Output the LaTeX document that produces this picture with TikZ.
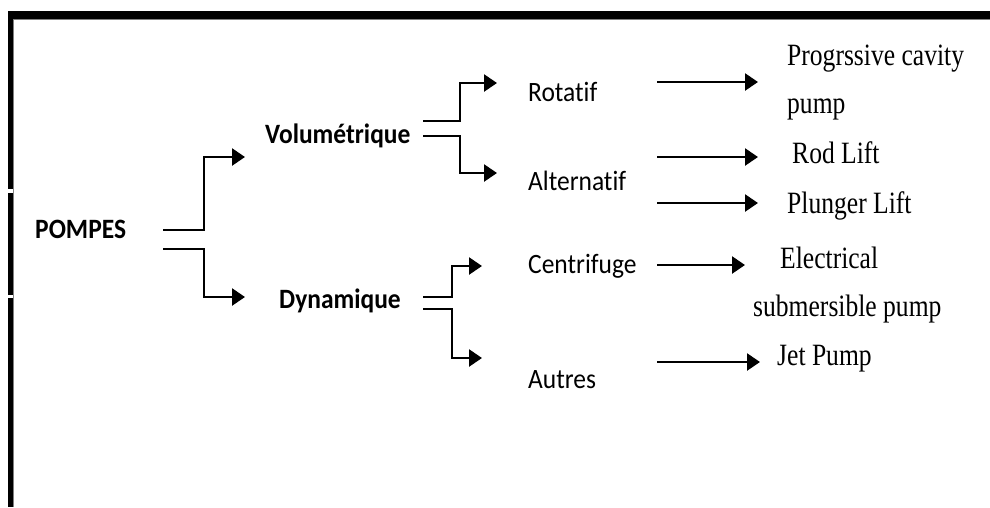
\documentclass[tikz,border=0pt]{standalone}
\usepackage{fontspec}
\setmainfont{Liberation Serif}[FakeStretch=0.825,Ligatures=NoCommon]
\setsansfont{Carlito}[FakeStretch=0.91,Ligatures=NoCommon,RawFeature=-liga]
\usetikzlibrary{arrows.meta}
\begin{document}
\begin{tikzpicture}[x=1pt,y=-1pt,
  lbl/.style={font=\sffamily\fontsize{28}{34}\selectfont, inner sep=0pt, anchor=base west},
  blbl/.style={lbl, font=\sffamily\bfseries\fontsize{28}{34}\selectfont},
  slbl/.style={font=\rmfamily\fontsize{31}{48}\selectfont, inner sep=0pt, anchor=base west, align=left},
  conn/.style={line width=2.5pt, -{Triangle[length=13pt,width=17pt]}},
  edge/.style={fill=black},
  shade/.style={draw=gray, line width=1pt}]
\useasboundingbox (0,0) rectangle (990,507);
% frame
\fill[edge] (8,11) rectangle (990,19);
\fill[edge] (8,11) rectangle (12.5,189);
\fill[edge] (8,193) rectangle (12.5,295);
\fill[edge] (8,298) rectangle (12.5,507);
\draw[shade] (13,19.5) -- (990,19.5);
\draw[shade] (13,19.5) -- (13,507);
% labels
\node[blbl] (pompes) at (35,238) {POMPES};
\node[blbl] (vol) at (265,143) {Volumétrique};
\node[blbl] (dyn) at (279,308) {Dynamique};
\node[lbl] (rot) at (528,101) {Rotatif};
\node[lbl] (alt) at (528,190) {Alternatif};
\node[lbl] (cen) at (528,273) {Centrifuge};
\node[lbl] (aut) at (528,388) {Autres};
\node[slbl] (pcp) at (787,113) {Progrssive cavity\\pump};
\node[slbl] (rod) at (792,163) {Rod Lift};
\node[slbl] (plu) at (787,213) {Plunger Lift};
\node[slbl] (esp) at (753,316) {\hspace*{27pt}Electrical\\submersible pump};
\node[slbl] (jet) at (777,365) {Jet Pump};
% connector ends
\coordinate (pA) at (163,230);
\coordinate (pB) at (163,249);
\coordinate (volIn) at (245,157);
\coordinate (dynIn) at (245,297);
\coordinate (vA) at (423,121);
\coordinate (vB) at (423,136);
\coordinate (rotIn) at (497,83);
\coordinate (altIn) at (497,173);
\coordinate (dA) at (423,297);
\coordinate (dB) at (423,309);
\coordinate (cenIn) at (482,266);
\coordinate (autIn) at (482,358);
\coordinate (r1) at (657,82);
\coordinate (r1e) at (758,82);
\coordinate (a1) at (657,157);
\coordinate (a1e) at (758,157);
\coordinate (a2) at (657,203);
\coordinate (a2e) at (758,203);
\coordinate (c1) at (657,265);
\coordinate (c1e) at (745,265);
\coordinate (o1) at (657,362);
\coordinate (o1e) at (760,362);
% connectors
\draw[conn] (pA) -- ++(41,0) |- (volIn);
\draw[conn] (pB) -- ++(41,0) |- (dynIn);
\draw[conn] (vA) -- ++(37,0) |- (rotIn);
\draw[conn] (vB) -- ++(37,0) |- (altIn);
\draw[conn] (dA) -- ++(29,0) |- (cenIn);
\draw[conn] (dB) -- ++(29,0) |- (autIn);
\draw[conn] (r1) -- (r1e);
\draw[conn] (a1) -- (a1e);
\draw[conn] (a2) -- (a2e);
\draw[conn] (c1) -- (c1e);
\draw[conn] (o1) -- (o1e);
\end{tikzpicture}
\end{document}
